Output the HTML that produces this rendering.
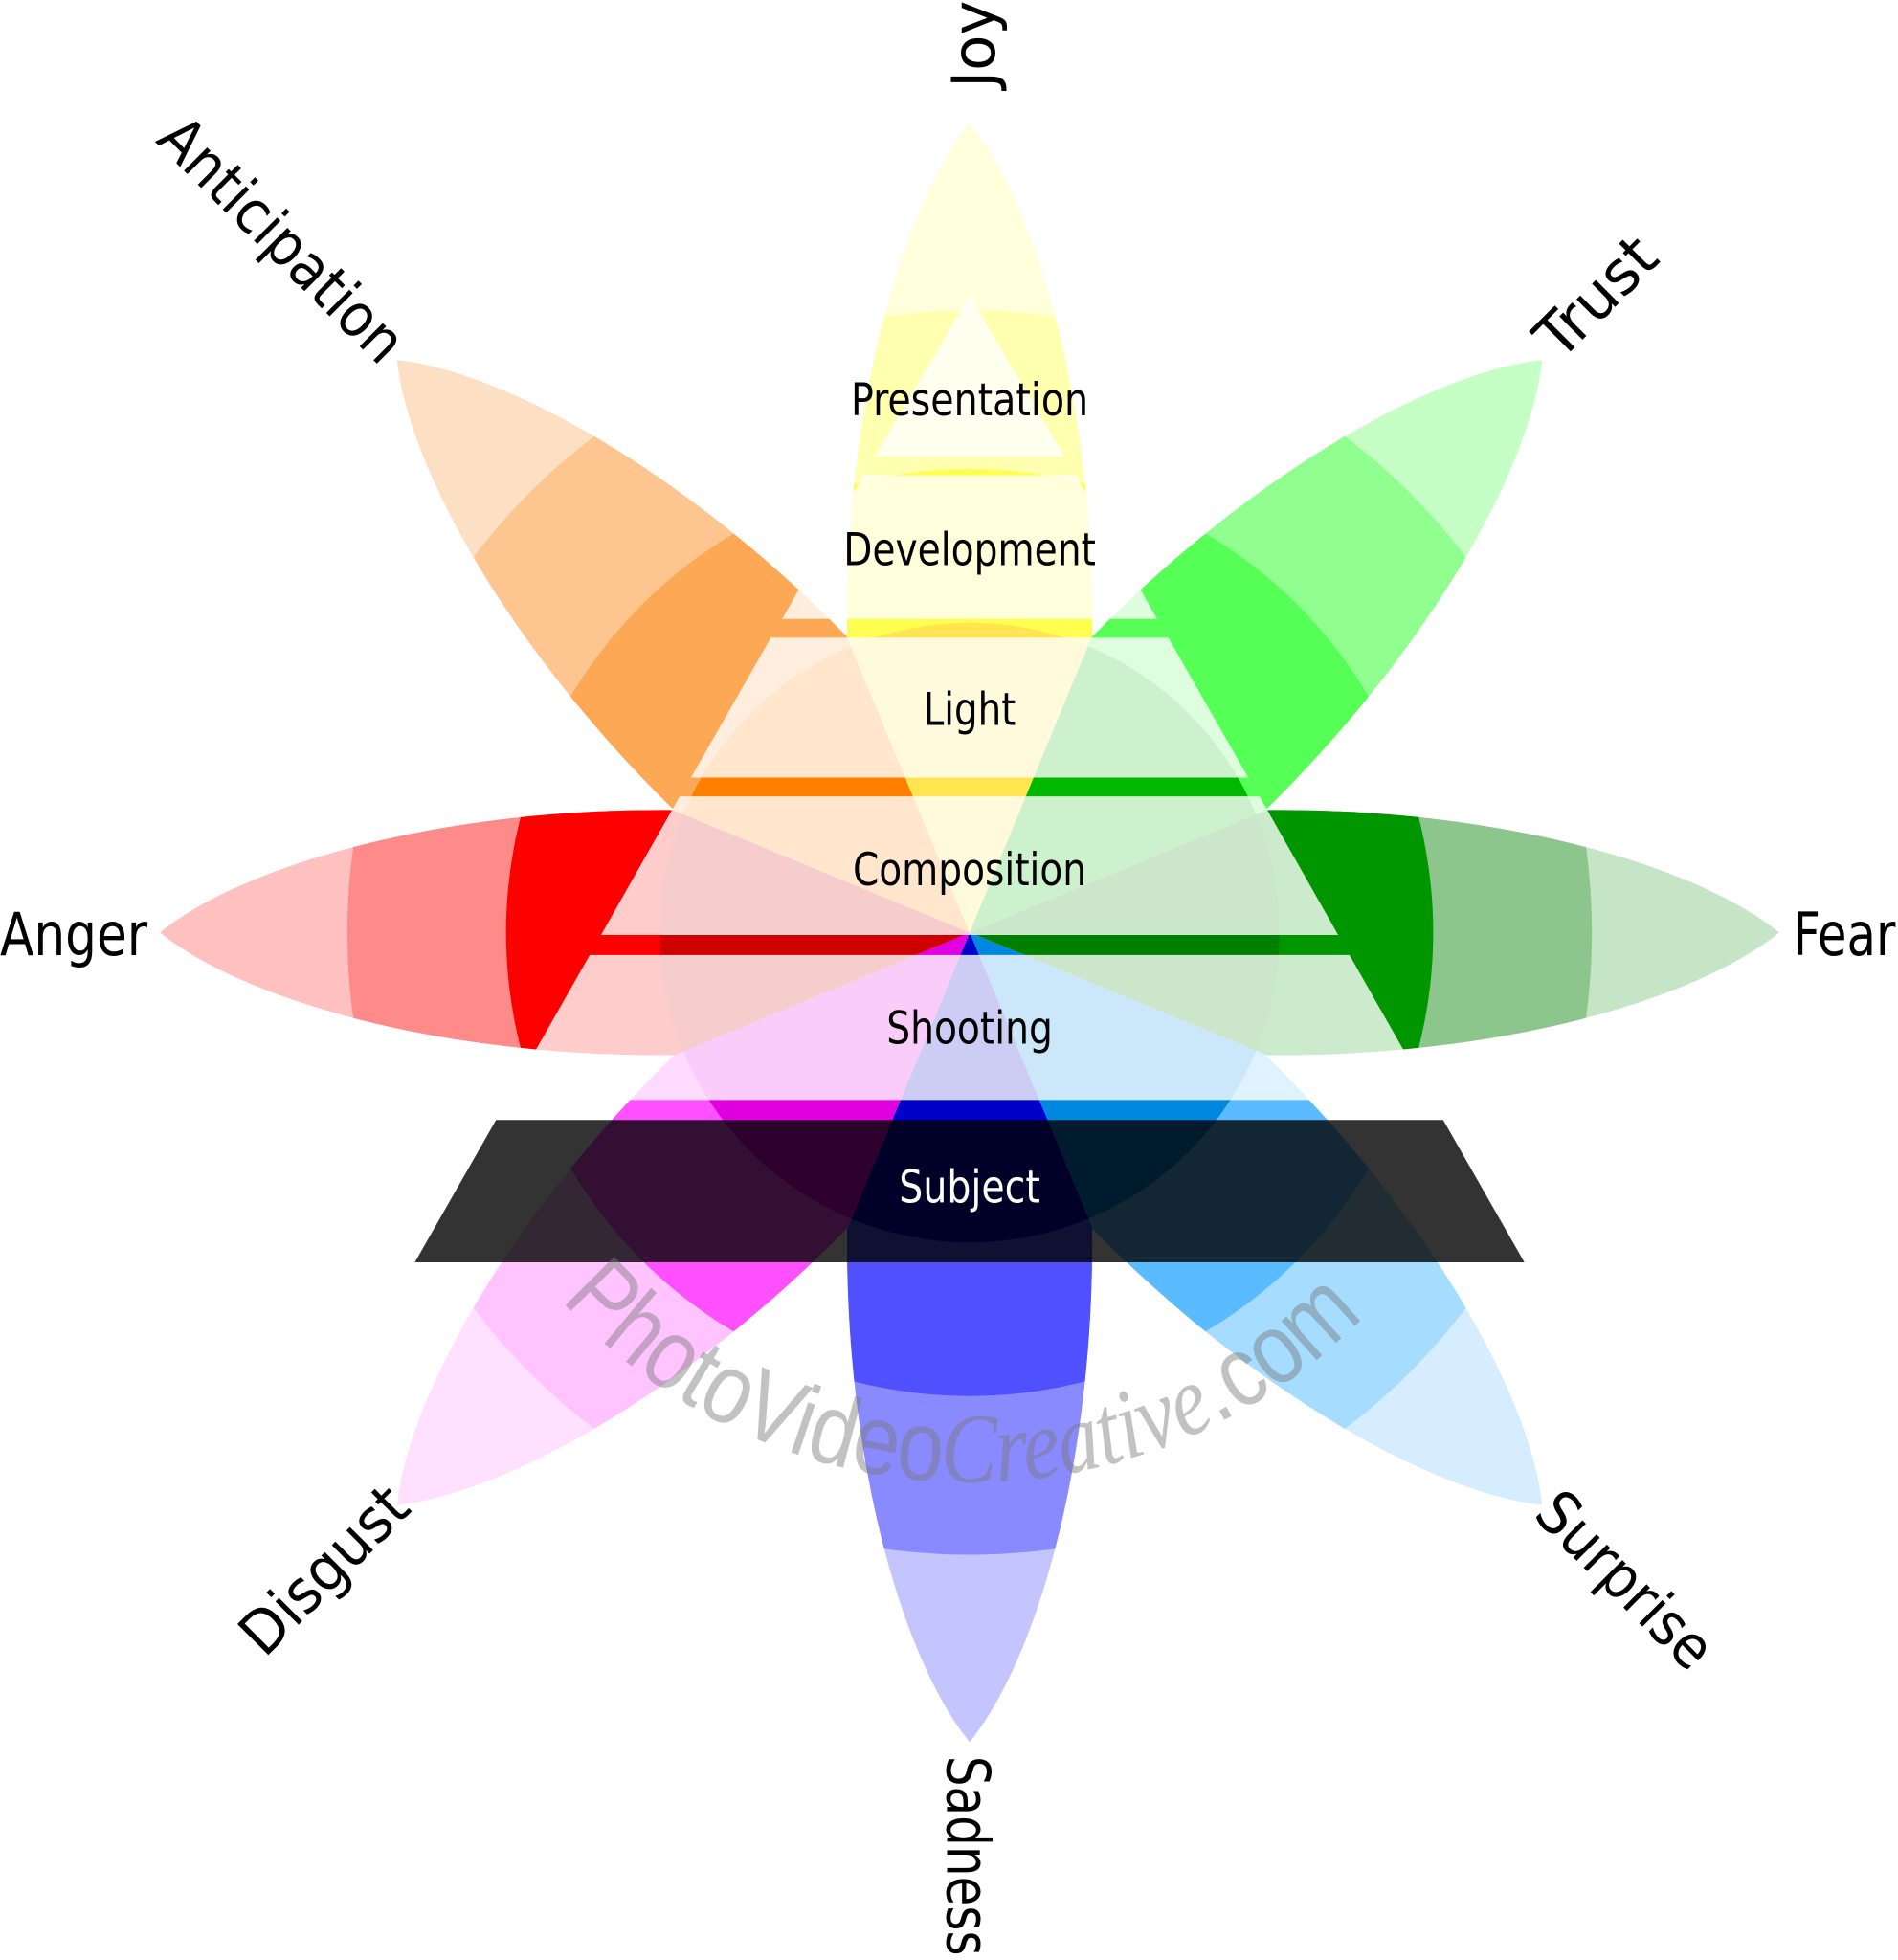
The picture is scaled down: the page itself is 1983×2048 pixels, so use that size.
<!DOCTYPE html>
<html><head><meta charset="utf-8"><style>
html,body{margin:0;padding:0;background:#fff;}
svg{display:block;}
.lv{font-family:"Liberation Sans Narrow","DejaVu Sans Condensed","Liberation Sans",sans-serif;font-size:36px;fill:#000;}
.ol{font-family:"Liberation Sans Narrow","DejaVu Sans Condensed","Liberation Sans",sans-serif;font-size:48px;fill:#000;}
</style></head><body>
<svg width="1983" height="2048" viewBox="0 0 1519 1568" xmlns="http://www.w3.org/2000/svg">
<defs>
<path id="pt" d="M0,0 L236,-98 C420,-100 580,-55 648,0 C580,55 420,100 236,98 Z"/>
<clipPath id="c3"><circle cx="0" cy="0" r="498"/></clipPath>
<clipPath id="c2"><circle cx="0" cy="0" r="371"/></clipPath>
<clipPath id="c1"><circle cx="0" cy="0" r="248"/></clipPath>
<path id="arc" d="M 449,1040 A 440,440 0 0 0 1123,1017"/>
</defs>
<rect width="1519" height="1568" fill="#fff"/>
<g transform="translate(776,746)">
 <g transform="rotate(0)"><use href="#pt" fill="#c6e4c6"/><use href="#pt" fill="#8cc68c" clip-path="url(#c3)"/><use href="#pt" fill="#009600" clip-path="url(#c2)"/><use href="#pt" fill="#008000" clip-path="url(#c1)"/></g>
 <g transform="rotate(45)"><use href="#pt" fill="#d6ecff"/><use href="#pt" fill="#a6dcff" clip-path="url(#c3)"/><use href="#pt" fill="#5abcff" clip-path="url(#c2)"/><use href="#pt" fill="#0088e0" clip-path="url(#c1)"/></g>
 <g transform="rotate(90)"><use href="#pt" fill="#c4c4ff"/><use href="#pt" fill="#8a8aff" clip-path="url(#c3)"/><use href="#pt" fill="#5050ff" clip-path="url(#c2)"/><use href="#pt" fill="#0000c8" clip-path="url(#c1)"/></g>
 <g transform="rotate(135)"><use href="#pt" fill="#ffe0ff"/><use href="#pt" fill="#ffc4ff" clip-path="url(#c3)"/><use href="#pt" fill="#ff50ff" clip-path="url(#c2)"/><use href="#pt" fill="#e000e0" clip-path="url(#c1)"/></g>
 <g transform="rotate(180)"><use href="#pt" fill="#ffc0c0"/><use href="#pt" fill="#ff8a8a" clip-path="url(#c3)"/><use href="#pt" fill="#ff0000" clip-path="url(#c2)"/><use href="#pt" fill="#d00000" clip-path="url(#c1)"/></g>
 <g transform="rotate(225)"><use href="#pt" fill="#fde0c4"/><use href="#pt" fill="#fdc690" clip-path="url(#c3)"/><use href="#pt" fill="#fda855" clip-path="url(#c2)"/><use href="#pt" fill="#ff8000" clip-path="url(#c1)"/></g>
 <g transform="rotate(270)"><use href="#pt" fill="#ffffdc"/><use href="#pt" fill="#ffffb0" clip-path="url(#c3)"/><use href="#pt" fill="#ffff50" clip-path="url(#c2)"/><use href="#pt" fill="#ffe650" clip-path="url(#c1)"/></g>
 <g transform="rotate(315)"><use href="#pt" fill="#c6ffc6"/><use href="#pt" fill="#90ff90" clip-path="url(#c3)"/><use href="#pt" fill="#55ff55" clip-path="url(#c2)"/><use href="#pt" fill="#00b800" clip-path="url(#c1)"/></g>
</g>
<g fill="#fff" fill-opacity="0.8">
 <polygon points="776,236 852,365 700,365"/>
 <polygon points="691,380 861,380 926,495 626,495"/>
 <polygon points="617,510 935,510 999,622 553,622"/>
 <polygon points="544,637 1008,637 1071,748 481,748"/>
 <polygon points="472,764 1080,764 1146,880 406,880"/>
</g>
<polygon points="397,896 1155,896 1220,1010 332,1010" fill="#000" fill-opacity="0.8"/>
<text font-family="Liberation Sans, sans-serif" font-size="80" fill="#777" fill-opacity="0.45"><textPath href="#arc" textLength="720" lengthAdjust="spacingAndGlyphs">PhotoVideo<tspan font-family="Liberation Serif, serif" font-style="italic">Creative</tspan>.com</textPath></text>
<g class="lv" text-anchor="middle">
 <text x="776" y="332" textLength="190" lengthAdjust="spacingAndGlyphs">Presentation</text>
 <text x="776" y="452" textLength="202" lengthAdjust="spacingAndGlyphs">Development</text>
 <text x="776" y="580" textLength="74" lengthAdjust="spacingAndGlyphs">Light</text>
 <text x="776" y="708" textLength="187" lengthAdjust="spacingAndGlyphs">Composition</text>
 <text x="776" y="835" textLength="133" lengthAdjust="spacingAndGlyphs">Shooting</text>
 <text x="776" y="962" textLength="113" lengthAdjust="spacingAndGlyphs" fill="#fff">Subject</text>
</g>
<g class="ol" text-anchor="middle">
 <text x="59" y="764" textLength="118" lengthAdjust="spacingAndGlyphs">Anger</text>
 <text x="1476" y="764" textLength="82" lengthAdjust="spacingAndGlyphs">Fear</text>
 <text transform="translate(796,35) rotate(-90)" textLength="70" lengthAdjust="spacingAndGlyphs">Joy</text>
 <text transform="translate(758,1485) rotate(90)" textLength="160" lengthAdjust="spacingAndGlyphs">Sadness</text>
 <text transform="translate(214,203) rotate(45)" textLength="255" lengthAdjust="spacingAndGlyphs">Anticipation</text>
 <text transform="translate(1289,249) rotate(-45)" textLength="115" lengthAdjust="spacingAndGlyphs">Trust</text>
 <text transform="translate(1289,1276) rotate(45)" textLength="178" lengthAdjust="spacingAndGlyphs">Surprise</text>
 <text transform="translate(271,1268) rotate(-45)" textLength="168" lengthAdjust="spacingAndGlyphs">Disgust</text>
</g>
</svg>
</body></html>
